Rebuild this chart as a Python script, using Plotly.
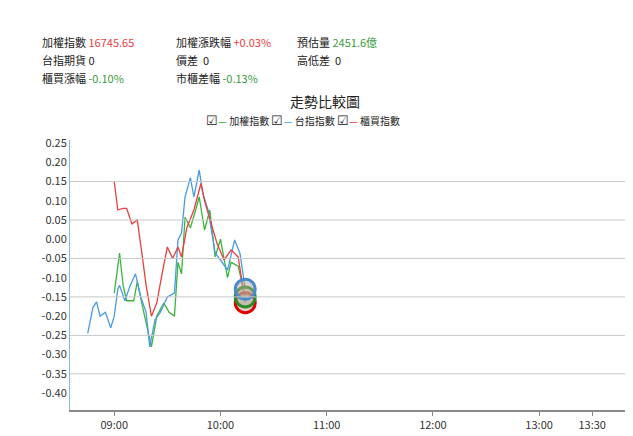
import plotly.graph_objects as go

day = "2024-01-02 "
blue_t = ["08:45","08:48","08:50","08:52","08:55","08:58","09:00","09:02","09:03","09:06","09:09","09:12","09:15","09:18","09:20","09:23","09:26","09:30","09:34","09:36","09:38","09:40","09:43","09:45","09:48","09:50","09:53","09:57","10:00","10:04","10:08","10:11","10:14"]
blue_v = [-0.245,-0.177,-0.163,-0.2,-0.19,-0.23,-0.2,-0.13,-0.12,-0.16,-0.12,-0.09,-0.15,-0.19,-0.28,-0.21,-0.19,-0.15,-0.14,-0.002,0.016,0.11,0.16,0.11,0.18,0.12,0.076,-0.036,-0.054,-0.08,-0.002,-0.036,-0.13]
red_t = ["09:00","09:02","09:05","09:07","09:10","09:13","09:16","09:18","09:21","09:24","09:27","09:30","09:33","09:36","09:38","09:41","09:45","09:49","09:51","09:54","09:58","10:02","10:06","10:10","10:14"]
red_v = [0.15,0.076,0.08,0.08,0.04,0.05,-0.05,-0.12,-0.2,-0.166,-0.09,-0.02,-0.05,-0.02,-0.046,0.03,0.076,0.145,0.1,0.05,-0.01,-0.054,-0.028,-0.046,-0.165]
green_t = ["09:00","09:03","09:05","09:07","09:11","09:13","09:16","09:18","09:21","09:24","09:28","09:31","09:34","09:36","09:38","09:40","09:43","09:46","09:48","09:51","09:54","09:57","10:00","10:04","10:06","10:10","10:14"]
green_v = [-0.14,-0.036,-0.12,-0.16,-0.16,-0.11,-0.176,-0.22,-0.28,-0.2,-0.166,-0.19,-0.2,-0.06,-0.09,0.057,0.03,0.076,0.11,0.024,0.076,-0.046,0.0,-0.1,-0.06,-0.07,-0.15]
x_ticks = ["09:00","10:00","11:00","12:00","13:00","13:30"]
y_ticks = [round(0.25 - 0.05*i, 2) for i in range(14)]
grid_vals = [0.15, 0.05, -0.05, -0.15, -0.25, -0.35]

fig = go.Figure()
for t, v, c in [(green_t, green_v, "#3cb43c"), (blue_t, blue_v, "#4a9be0"), (red_t, red_v, "#e84040")]:
    fig.add_trace(go.Scatter(x=[day+s for s in t], y=v, mode="lines", line=dict(color=c, width=1.3)))
for t, v, c in [(red_t, red_v, "#e00000"), (green_t, green_v, "#2a8a2a"), (blue_t, blue_v, "#4a8ad0")]:
    fig.add_trace(go.Scatter(x=[day+t[-1]], y=[v[-1]], mode="markers",
                             marker=dict(size=20, color="rgba(180,170,150,0.5)", line=dict(color=c, width=3))))
for g in grid_vals:
    fig.add_hline(y=g, line=dict(color="#c8c8c8", width=1))

F = "Noto Sans CJK TC, sans-serif"
def ann(x, y, text, size=11):
    fig.add_annotation(x=x, y=y, xref="paper", yref="paper", text=text, showarrow=False,
                       xanchor="left", yanchor="middle", font=dict(size=size, family=F, color="#222"))
# header rows, positioned relative to the plot box (x 62..632, y 140..410 in the reference)
def px_x(p): return (p-62)/570
def px_y(p): return (410-p)/270
ann(px_x(32), px_y(42), "加權指數 <span style='color:#e84040'>16745.65</span>")
ann(px_x(166), px_y(42), "加權漲跌幅 <span style='color:#e84040'>+0.03%</span>")
ann(px_x(287), px_y(42), "預估量 <span style='color:#3a9a3a'>2451.6億</span>")
ann(px_x(32), px_y(60), "台指期貨 0")
ann(px_x(166), px_y(60), "價差  0")
ann(px_x(287), px_y(60), "高低差  0")
ann(px_x(32), px_y(78), "櫃買漲幅 <span style='color:#3a9a3a'>-0.10%</span>")
ann(px_x(166), px_y(78), "市櫃差幅 <span style='color:#3a9a3a'>-0.13%</span>")
ann(px_x(280), px_y(101), "走勢比較圖", 14)
ann(px_x(196), px_y(120), "<span style='font-size:13px'>☑</span><span style='color:#3cb43c'>—</span> 加權指數 "
    "<span style='font-size:13px'>☑</span><span style='color:#4a9be0'>—</span> 台指指數 "
    "<span style='font-size:13px'>☑</span><span style='color:#e84040'>—</span> 櫃買指數", 10)

fig.update_layout(
    width=633, height=436, margin=dict(l=62, r=1, t=132, b=34),
    plot_bgcolor="white", paper_bgcolor="white", showlegend=False,
    font=dict(family=F, size=11, color="#333"),
    xaxis=dict(range=[day+"08:35", day+"13:57"], tickvals=[day+s for s in x_ticks], ticktext=x_ticks,
               showgrid=False, showline=True, linecolor="#888", linewidth=2, ticks="outside",
               ticklen=4, tickcolor="#888", zeroline=False),
    yaxis=dict(range=[-0.444, 0.258], tickvals=y_ticks, ticktext=[f"{v:.2f}" for v in y_ticks],
               showgrid=False, showline=True, linecolor="#8ab8e6", zeroline=False),
)
fig.write_html("out.html")
